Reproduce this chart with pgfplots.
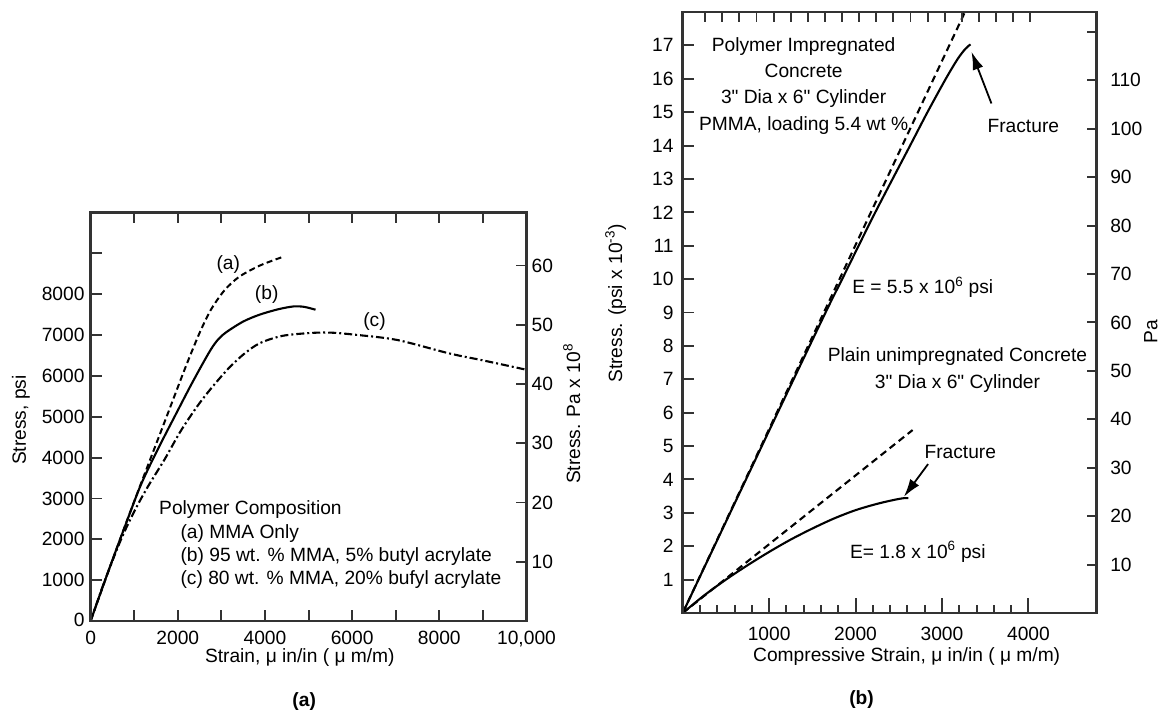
\documentclass[border=0pt]{standalone}
\usepackage{pgfplots}
\pgfplotsset{compat=1.18}
\usepackage{fontspec}
\setmainfont{Liberation Sans}
\usetikzlibrary{arrows.meta}

\definecolor{frame}{HTML}{333333}

\pgfplotsset{
  panel/.style={
    scale only axis, anchor=south west,
    axis line style={draw=frame, line width=2.5pt},
    tick style={draw=frame, line width=1.9pt},
    tick align=inside,
    scaled ticks=false,
    /pgf/number format/assume math mode=true,
    clip mode=individual,
  },
  panelA/.style={panel, at={(90.6pt,92pt)}, width=435.9pt, height=408.5pt,
    xmin=0, xmax=10000},
  panelB/.style={panel, at={(682.7pt,100pt)}, width=414pt, height=601pt,
    xmin=0, xmax=4790},
  curve/.style={black, line width=2.1pt, no markers, line join=round},
}
\newcommand{\inch}{\textquotedbl}

\begin{document}
\fontsize{19.2}{23}\selectfont
\begin{tikzpicture}
\useasboundingbox (0,0) rectangle (1160pt,713pt);

% ---------------- (a) stress-strain of polymer impregnated concrete
\begin{axis}[panelA, ymin=0, ymax=10000,
  major tick length=11pt,
  xtick={0,1000,...,10000},
  xticklabels={0,,2000,,4000,,6000,,8000,,{10,000}},
  xtick pos=both, xticklabel pos=left,
  xticklabel style={yshift=-3pt},
  ytick={0,1000,...,9000},
  yticklabels={\raisebox{3pt}{0}\hspace{15pt},1000,2000,3000,4000,5000,6000,7000,8000,{}},
  ytick pos=left,
  yticklabel style={xshift=0.5pt},
  xlabel={Strain, μ in/in ( μ m/m)},
  xlabel style={at={(axis description cs:0.480,-0.0906)}, anchor=center},
  ylabel={Stress, psi},
  ylabel style={at={(axis description cs:-0.160,0.492)}, anchor=center},
]
% (a) MMA only
\addplot[curve, line width=2pt, dash pattern=on 6pt off 3.5pt, smooth] coordinates {
  (0,0) (400,1190) (800,2360) (1240,3600) (1700,4880) (2100,6000) (2300,6540)
  (2520,7100) (2760,7620) (3060,8080) (3400,8420) (3880,8700) (4400,8910)};
% (b) 95 wt.% MMA, 5% butyl acrylate
\addplot[curve, smooth] coordinates {
  (0,0) (400,1200) (800,2350) (1160,3350) (1550,4220) (1940,5030) (2330,5830)
  (2710,6560) (2900,6860) (3100,7060) (3500,7330) (3880,7500) (4300,7630)
  (4650,7700) (4900,7690) (5160,7620)};
% (c) 80 wt.% MMA, 20% butyl acrylate
\addplot[curve, dash pattern=on 8pt off 3pt on 2pt off 3pt, smooth] coordinates {
  (0,0) (330,1000) (700,2000) (1010,2700) (1320,3300) (1700,3960) (2090,4690)
  (2560,5420) (3100,6110) (3500,6520) (3880,6800) (4400,6980) (5040,7050)
  (5500,7060) (6050,7010) (7030,6880) (8230,6550) (9000,6380) (10000,6150)};

\node at (axis cs:3159,8715) {(a)};
\node at (axis cs:4040,7980) {(b)};
\node at (axis cs:6513,7327) {(c)};
\node[anchor=west, inner sep=0pt] at (axis cs:1570,2725) {Polymer Composition};
\node[anchor=west, inner sep=0pt] at (axis cs:2060,2150) {(a) MMA Only};
\node[anchor=west, inner sep=0pt] at (axis cs:2060,1574) {(b) 95 wt. \% MMA, 5\% butyl acrylate};
\node[anchor=west, inner sep=0pt] at (axis cs:2060,1004) {(c) 80 wt. \% MMA, 20\% bufyl acrylate};
\node[font=\bfseries] at (axis description cs:0.49,-0.198) {(a)};
\end{axis}

% right-hand scale of (a)
\begin{axis}[panelA, ymin=0, ymax=68.95,
  major tick length=11pt,
  xtick=\empty,
  ytick={10,20,...,60}, ytick pos=right, yticklabel pos=right,
  yticklabel style={xshift=-1.5pt},
  ylabel={Stress. Pa x 10\textsuperscript{8}},
  ylabel style={at={(axis description cs:1.104,0.507)}, anchor=center},
]
\end{axis}

% ---------------- (b) compressive stress-strain, impregnated vs plain
\begin{axis}[panelB, ymin=0, ymax=18,
  major tick length=15pt, minor tick length=8pt,
  xtick={1000,2000,3000,4000},
  xticklabels={1000,2000,3000,4000},
  minor xtick={200,400,600,800,1200,1400,1600,1800,2200,2400,2600,2800,3200,3400,3600,3800},
  xtick pos=left,
  xticklabel style={yshift=-7pt},
  ytick=\empty,
  xlabel={Compressive Strain, μ in/in ( μ m/m)},
  xlabel style={at={(axis description cs:0.541,-0.0727)}, anchor=center},
]
% polymer impregnated concrete
\addplot[curve, dash pattern=on 7pt off 4.5pt] coordinates {(0,0) (3275,18.05)};
\addplot[curve, smooth] coordinates {
  (0,0) (549,3) (1099,6) (1653,9) (1845,10) (2228,12) (2631,14) (2832,15)
  (3044,16) (3183,16.6) (3272,16.9) (3330,17.03)};
% plain unimpregnated concrete
\addplot[curve, dash pattern=on 7pt off 4.5pt] coordinates {(0,0) (2660,5.48)};
\addplot[curve, smooth] coordinates {
  (0,0) (250,0.53) (500,1.0) (750,1.43) (1000,1.83) (1250,2.2) (1500,2.53)
  (1750,2.83) (2000,3.08) (2250,3.27) (2450,3.39) (2560,3.44) (2610,3.44)};

\node at (axis cs:1399,16.96) {Polymer Impregnated};
\node at (axis cs:1399,16.23) {Concrete};
\node at (axis cs:1399,15.41) {3\inch{} Dia x 6\inch{} Cylinder};
\node at (axis cs:1399,14.59) {PMMA, loading 5.4 wt \%};
\node at (axis cs:3941,14.58) {Fracture};
\draw[black, line width=1.8pt, -{Latex[length=18pt,width=11pt]}]
  (axis cs:3572,15.26) -- (axis cs:3341,16.81);
\node[anchor=west, inner sep=0pt] at (axis cs:1960,9.75) {E = 5.5 x 10\textsuperscript{6} psi};
\node at (axis cs:3179,7.68) {Plain unimpregnated Concrete};
\node at (axis cs:3179,6.88) {3\inch{} Dia x 6\inch{} Cylinder};
\node at (axis cs:3212,4.83) {Fracture};
\draw[black, line width=1.8pt, -{Latex[length=18pt,width=11pt]}]
  (axis cs:2839,4.46) -- (axis cs:2559,3.48);
\node at (axis cs:2720,1.84) {E= 1.8 x 10\textsuperscript{6} psi};
\node[font=\bfseries] at (axis description cs:0.432,-0.1448) {(b)};
\end{axis}

% left scale of (b)
\begin{axis}[panelB, ymin=0, ymax=18,
  major tick length=11pt,
  xtick=\empty,
  ytick={1,2,...,17}, ytick pos=left,
  yticklabel style={xshift=-2.5pt},
  ylabel={Stress. (psi x 10\textsuperscript{-3})},
  ylabel style={at={(axis description cs:-0.162,0.515)}, anchor=center},
]
\end{axis}

% top ticks of (b)
\begin{axis}[panelB, ymin=0, ymax=18,
  major tick length=10pt,
  ytick=\empty,
  xtick={260,458,656,854,1052,1250,1448,1646,1844,2042,2240,2438,2636,2834,3032,3230,3428,3626,3824,4022},
  xticklabels={}, xtick pos=right,
]
\end{axis}

% right-hand scale of (b)
\begin{axis}[panelB, ymin=0, ymax=124.11,
  major tick length=10pt,
  xtick=\empty,
  ytick={10,20,...,120},
  yticklabels={10,20,30,40,50,60,70,80,90,100,110,{}},
  ytick pos=right, yticklabel pos=right,
  yticklabel style={xshift=7pt},
  ylabel={Pa},
  ylabel style={at={(axis description cs:1.131,0.4676)}, anchor=center},
]
\end{axis}
\end{tikzpicture}
\end{document}
